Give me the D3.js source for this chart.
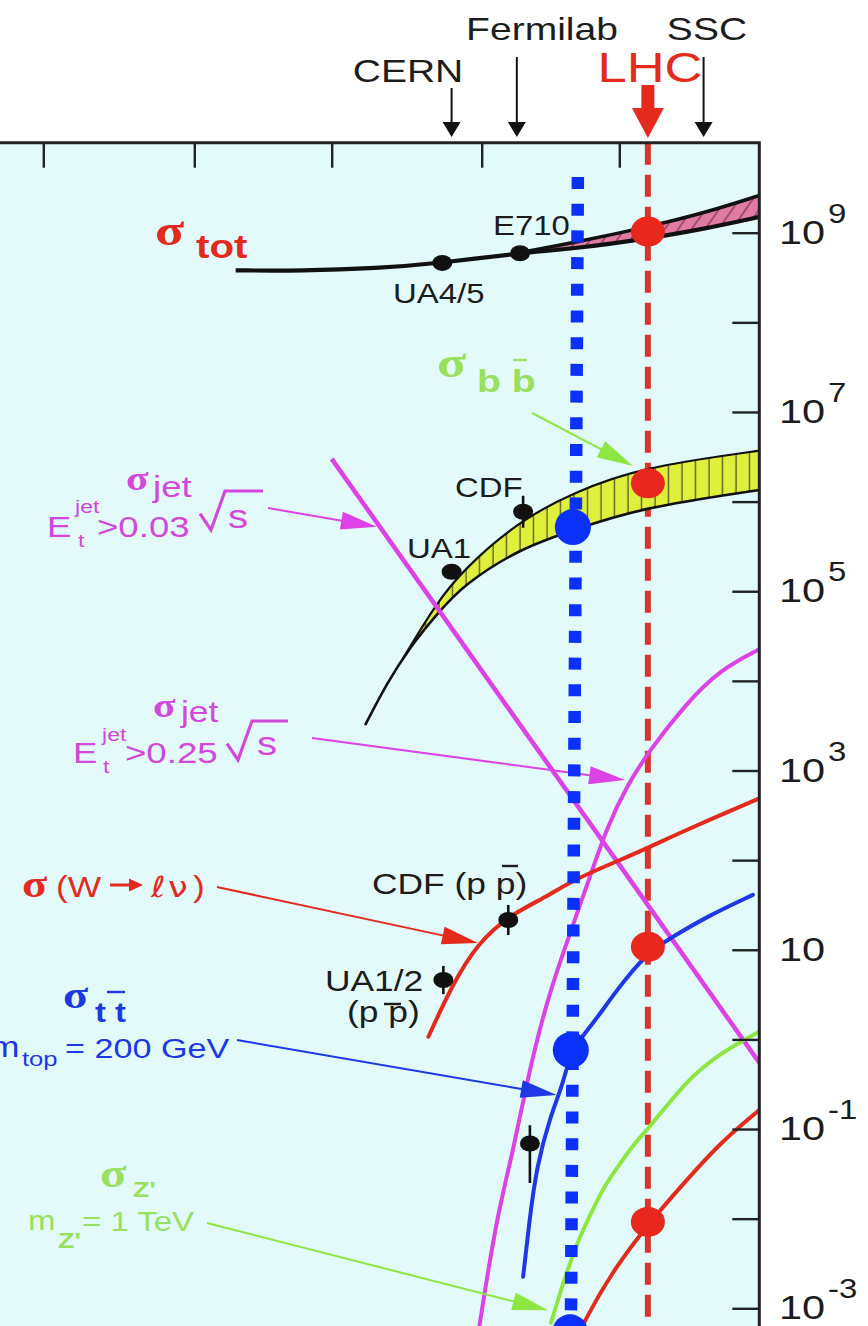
<!DOCTYPE html>
<html>
<head>
<meta charset="utf-8">
<script src="https://cdn.jsdelivr.net/npm/d3@7"></script>
<style>
  html, body { margin: 0; padding: 0; background: #ffffff; }
  svg { display: block; }
</style>
</head>
<body>
<svg id="chart" width="868" height="1326"></svg>
<script>
// ---------------------------------------------------------------
// Data: cross sections σ versus collider energy √s (GeV)
// ---------------------------------------------------------------

// top-axis decades of √s (GeV)
const energyDecades = [1, 10, 100, 1000, 10000, 100000];

// right-axis decades of σ, and the ones that carry a label
const sigmaDecades = [1e-3, 1e-2, 1e-1, 1, 10, 1e2, 1e3, 1e4, 1e5, 1e6, 1e7, 1e8, 1e9];
const sigmaLabelValues = [1e9, 1e7, 1e5, 1e3, 10, 1e-1, 1e-3];
const sigmaLabelExponents = ["9", "7", "5", "3", "", "-1", "-3"];

// colliders marked above the plot
const machineNames = ["CERN", "Fermilab", "LHC", "SSC"];
const machineEnergies = [630, 1800, 16000, 40000];

// σ_tot : single curve that opens into a band
const sigmaTotLower = [[20, 3.8e8], [60, 3.75e8], [200, 4.0e8], [546, 4.6e8], [1800, 5.9e8], [5000, 6.7e8], [16000, 8.6e8], [40000, 1.1e9], [100000, 1.5e9]];
const sigmaTotUpper = [[1800, 5.9e8], [5000, 7.9e8], [16000, 1.16e9], [40000, 1.65e9], [100000, 2.6e9]];

// σ_bb̄ band
const bbLower = [[167, 3.2e3], [234, 9.5e3], [333, 2.39e4], [504, 5.57e4], [750, 1.17e5], [1900, 3.0e5], [4600, 4.8e5], [14000, 8.5e5], [100000, 1.35e6]];
const bbUpper = [[300, 1.8e4], [500, 7.4e4], [750, 1.73e5], [1900, 6.2e5], [4600, 1.25e6], [14000, 2.4e6], [100000, 3.7e6]];

// σ_jet, E_t > 0.03 √s (straight in log-log)
const jetLowCut = [[100, 3.0e6], [1000, 1.3e4], [10000, 89], [100000, 0.55]];
// σ_jet, E_t > 0.25 √s
const jetHighCut = [[960, 6.0e-4], [1285, 0.0105], [1700, 0.058], [2120, 0.33], [2970, 2.75], [4390, 15.4], [6120, 65], [8090, 228], [11300, 671], [16500, 1700], [30300, 5660], [52000, 1.32e4], [100000, 2.25e4]];

// σ(W → ℓν)
const wLnu = [[441, 1.07], [647, 4.3], [944, 11.9], [1600, 24.4], [2970, 39], [4600, 60], [10100, 100], [16500, 140], [30000, 217], [100000, 490]];

// σ_tt̄, m_top = 200 GeV
const ttbar = [[2000, 2.25e-3], [2240, 0.0105], [2510, 0.038], [3140, 0.137], [3920, 0.324], [4440, 0.76], [6480, 1.51], [9570, 3.56], [15700, 9.2], [24200, 14], [42100, 23.4], [90000, 41]];

// σ_Z', m_Z' = 1 TeV
const zPrime = [[3190, 6.9e-4], [3900, 1.9e-3], [4390, 3.2e-3], [5180, 6.4e-3], [6440, 0.0128], [7870, 0.0237], [10100, 0.041], [12900, 0.07], [16500, 0.105], [30300, 0.35], [52300, 0.7], [100000, 1.22]];

// lowest red curve
const lowerRedCurve = [[4300, 3.0e-4], [5470, 6.9e-4], [9040, 2.68e-3], [16500, 9.2e-3], [30300, 0.027], [52300, 0.0698], [100000, 0.163]];

// σ values marked at the LHC energy
const lhcSigmas = [1.03e9, 1.6e6, 10.8, 0.0092];

// measured points: [√s, σ, error low, error high]
const measuredNames = ["UA4/5", "E710", "UA1", "CDF", "UA1/2", "CDF (p p̄)", "top"];
const measuredPoints = [
  [546, 4.6e8, null, null],
  [1900, 5.9e8, null, null],
  [630, 1.65e5, null, null],
  [2000, 7.7e5, 5.1e5, 1.16e6],
  [555, 4.6, 3.2, 6.6],
  [1560, 21.5, 14.6, 31.6],
  [2240, 0.069, 0.025, 0.11]
];

// points on the curves that the label arrows touch
const arrowTargets = [[12500, 2.5e6], [200, 5.25e5], [11000, 783], [944, 11.9], [3510, 0.239], [3050, 9.5e-4]];

// dotted blue marker line (√s at its top and bottom end) and its dots
const markerLineEnergies = [5000, 4450];
const markerDots = [[4600, 5.2e5], [4440, 0.76], [4390, 5.4e-4]];

// ---------------------------------------------------------------
// Drawing
// ---------------------------------------------------------------
const W = 868, H = 1326;
const SX = 1.22;                       // horizontal stretch of the lettering
const SANS = "'Liberation Sans', Arial, sans-serif";
const SERIF = "'Liberation Serif', 'DejaVu Serif', serif";
const DEJAVU = "'DejaVu Sans', sans-serif";

const INK = "#1c1c1c";
const RED = "#e42a1c";
const MAGENTA = "#dc42e6";
const MAG_TXT = "#d247dc";
const BLUE = "#1d38e4";
const GREEN = "#8ee642";
const GREEN_TXT = "#98e05e";
const OVERLAY = "#0a30fa";

const frame = { left: 0, top: 142.7, right: 759.3, bottom: H };

const x = d3.scaleLog().domain(energyDecades).range([43.3, 194.3, 331.7, 481.7, 619.3, 759.3]);
const y = d3.scaleLog().domain([1e-3, 1e9]).range([1308.3, 232.7]);

const svg = d3.select("#chart");
const defs = svg.append("defs");

defs.append("clipPath").attr("id", "plot-clip")
  .append("rect")
  .attr("x", frame.left).attr("y", frame.top)
  .attr("width", frame.right - frame.left).attr("height", frame.bottom - frame.top);

// vertical hatching for the bb̄ band
const vh = defs.append("pattern").attr("id", "hatch-bb")
  .attr("patternUnits", "userSpaceOnUse").attr("width", 13.5).attr("height", 20);
vh.append("rect").attr("width", 13.5).attr("height", 20).attr("fill", "#dff03c");
vh.append("line").attr("x1", 7).attr("x2", 7).attr("y1", 0).attr("y2", 20)
  .attr("stroke", "#3a3a1a").attr("stroke-width", 1.1);

// slanted hatching for the σ_tot band
const dh = defs.append("pattern").attr("id", "hatch-tot")
  .attr("patternUnits", "userSpaceOnUse").attr("width", 11).attr("height", 20)
  .attr("patternTransform", "rotate(35)");
dh.append("rect").attr("width", 11).attr("height", 20).attr("fill", "#e27ba4");
dh.append("line").attr("x1", 5).attr("x2", 5).attr("y1", 0).attr("y2", 20)
  .attr("stroke", "#6a2a40").attr("stroke-width", 1.1);

// page and plot background
svg.append("rect").attr("width", W).attr("height", H).attr("fill", "#ffffff");
svg.append("rect")
  .attr("x", frame.left).attr("y", frame.top)
  .attr("width", frame.right - frame.left).attr("height", frame.bottom - frame.top)
  .attr("fill", "#e2fafa");

const plot = svg.append("g").attr("clip-path", "url(#plot-clip)");

const smooth = d3.line().x(d => x(d[0])).y(d => y(d[1])).curve(d3.curveBasis);
const straight = d3.line().x(d => x(d[0])).y(d => y(d[1]));

// Fill between two curves: everything under the upper curve that is
// also above the lower curve (the latter applied as a clip path).
function band(id, upper, lower, fill) {
  const lo = lower[0], hi = lower[lower.length - 1];
  defs.append("clipPath").attr("id", id)
    .append("path")
    .attr("d", smooth(lower) + `L${x(hi[0]) + 5},${y(hi[1])}L${x(hi[0]) + 5},0L${x(lo[0])},0Z`);
  const uFirst = upper[0], uLast = upper[upper.length - 1];
  plot.append("path")
    .attr("clip-path", `url(#${id})`)
    .attr("d", smooth(upper) + `L${x(uLast[0])},${H}L${x(uFirst[0])},${H}Z`)
    .attr("fill", fill);
}

// LHC energy: dashed vertical line
const xLHC = x(machineEnergies[2]);
plot.append("line")
  .attr("x1", xLHC).attr("x2", xLHC).attr("y1", frame.top).attr("y2", frame.bottom)
  .attr("stroke", "#d6362c").attr("stroke-width", 6).attr("stroke-dasharray", "22 10");

// σ_tot band and curve
band("clip-tot", sigmaTotUpper, sigmaTotLower, "url(#hatch-tot)");
plot.append("path").attr("d", smooth(sigmaTotLower))
  .attr("fill", "none").attr("stroke", "#111").attr("stroke-width", 4.2);
plot.append("path").attr("d", smooth(sigmaTotUpper))
  .attr("fill", "none").attr("stroke", "#111").attr("stroke-width", 3.5);

// σ_bb̄ band
band("clip-bb", bbUpper, bbLower, "url(#hatch-bb)");
plot.append("path").attr("d", smooth(bbLower))
  .attr("fill", "none").attr("stroke", "#111").attr("stroke-width", 2.6);
plot.append("path").attr("clip-path", "url(#clip-bb)").attr("d", smooth(bbUpper))
  .attr("fill", "none").attr("stroke", "#111").attr("stroke-width", 2.2);

// jet cross sections
plot.append("path").attr("d", straight(jetLowCut))
  .attr("fill", "none").attr("stroke", MAGENTA).attr("stroke-width", 4.5);
plot.append("path").attr("d", smooth(jetHighCut))
  .attr("fill", "none").attr("stroke", MAGENTA).attr("stroke-width", 4);

// W, top, Z' and the lowest curve
[[wLnu, RED], [ttbar, BLUE], [zPrime, GREEN], [lowerRedCurve, RED]].forEach(([data, col]) => {
  plot.append("path").attr("d", smooth(data))
    .attr("fill", "none").attr("stroke", col).attr("stroke-width", 4).attr("stroke-linecap", "round");
});

// measured points with error bars
const pts = plot.append("g");
measuredPoints.forEach(d => {
  if (d[2] !== null) {
    pts.append("line")
      .attr("x1", x(d[0])).attr("x2", x(d[0]))
      .attr("y1", y(d[2])).attr("y2", y(d[3]))
      .attr("stroke", "#111").attr("stroke-width", 2.6);
  }
  pts.append("ellipse").attr("cx", x(d[0])).attr("cy", y(d[1]))
    .attr("rx", 10).attr("ry", 8).attr("fill", "#111");
});

// σ values at the LHC
lhcSigmas.forEach(v => {
  plot.append("ellipse").attr("cx", xLHC).attr("cy", y(v))
    .attr("rx", 17).attr("ry", 15).attr("fill", "#e8281c");
});

// ---------------------------------------------------------------
// Annotation helpers
// ---------------------------------------------------------------
const notes = svg.append("g");

function put(px, py, str, o) {
  const g = notes.append("g").attr("transform", `translate(${px},${py}) scale(${SX},1)`);
  g.append("text")
    .attr("text-anchor", o.anchor || "start")
    .attr("font-family", o.family || SANS)
    .attr("font-size", o.size)
    .attr("font-weight", o.weight || "normal")
    .attr("fill", o.fill || INK)
    .text(str);
}

function sigma(px, py, size, col) {
  put(px, py, "σ", { size: size, family: SERIF, weight: "bold", fill: col });
}

function arrow(g, x1, y1, x2, y2, col, o) {
  const opt = Object.assign({ width: 2, head: 36, half: 9 }, o || {});
  const dx = x2 - x1, dy = y2 - y1, len = Math.hypot(dx, dy);
  const ux = dx / len, uy = dy / len;
  const bx = x2 - ux * opt.head, by = y2 - uy * opt.head;
  g.append("line").attr("x1", x1).attr("y1", y1).attr("x2", bx + ux * 2).attr("y2", by + uy * 2)
    .attr("stroke", col).attr("stroke-width", opt.width);
  g.append("path")
    .attr("d", `M${x2},${y2}L${bx - uy * opt.half},${by + ux * opt.half}L${bx + uy * opt.half},${by - ux * opt.half}Z`)
    .attr("fill", col);
}

function radical(px, yTop, yBottom, xEnd, col) {
  const yMid = yTop + 0.58 * (yBottom - yTop);
  notes.append("path")
    .attr("d", `M${px},${yMid}L${px + 11},${yBottom}L${px + 25},${yTop}H${xEnd}`)
    .attr("fill", "none").attr("stroke", col).attr("stroke-width", 3.2)
    .attr("stroke-linejoin", "miter");
}

function bar(x1, x2, yy, col) {
  notes.append("line").attr("x1", x1).attr("x2", x2).attr("y1", yy).attr("y2", yy)
    .attr("stroke", col).attr("stroke-width", 2.4);
}

// ---------------------------------------------------------------
// Frame and axes
// ---------------------------------------------------------------
const axes = svg.append("g");

axes.append("g")
  .attr("transform", `translate(0,${frame.top})`)
  .call(d3.axisTop(x).tickValues(energyDecades.slice(0, 5)).tickSize(-25).tickSizeOuter(0).tickFormat(""))
  .call(g => g.select(".domain").remove())
  .call(g => g.selectAll(".tick line").attr("stroke", "#222").attr("stroke-width", 2.4));

axes.append("g")
  .attr("transform", `translate(${frame.right},0)`)
  .call(d3.axisRight(y).tickValues(sigmaDecades).tickSize(-27).tickSizeOuter(0).tickFormat(""))
  .call(g => g.select(".domain").remove())
  .call(g => g.selectAll(".tick line").attr("stroke", "#222").attr("stroke-width", 2.4));

axes.append("path")
  .attr("d", `M${frame.left},${frame.top}H${frame.right}V${frame.bottom}`)
  .attr("fill", "none").attr("stroke", "#222").attr("stroke-width", 3);

sigmaLabelValues.forEach((v, i) => {
  put(779, y(v) + 11, "10", { size: 34 });
  if (sigmaLabelExponents[i]) put(828, y(v) - 10, sigmaLabelExponents[i], { size: 27 });
});

// colliders above the plot
const machinesG = svg.append("g");
const xm = machineEnergies.map(e => x(e));
put(408, 82, machineNames[0], { size: 32, anchor: "middle" });
put(542, 40, machineNames[1], { size: 32, anchor: "middle" });
put(650, 82, machineNames[2], { size: 43, anchor: "middle", fill: RED });
put(707, 40, machineNames[3], { size: 32, anchor: "middle" });
arrow(machinesG, xm[0], 88, xm[0], 137, "#111", { width: 2, head: 15, half: 9 });
arrow(machinesG, xm[1], 57, xm[1], 137, "#111", { width: 2, head: 15, half: 9 });
arrow(machinesG, xm[3], 57, xm[3], 137, "#111", { width: 2, head: 15, half: 9 });
arrow(machinesG, xm[2], 85, xm[2], 138, RED, { width: 13, head: 30, half: 16 });

// ---------------------------------------------------------------
// Curve labels and their arrows
// ---------------------------------------------------------------
const arrowsG = svg.append("g");
const tails = [[532, 413], [268, 508], [312, 738], [217, 887], [237, 1040], [207, 1223]];
const arrowCols = [GREEN, MAGENTA, MAGENTA, RED, BLUE, GREEN];
arrowTargets.forEach((t, i) => {
  arrow(arrowsG, tails[i][0], tails[i][1], x(t[0]), y(t[1]), arrowCols[i], { width: 2 });
});

// σ_tot
sigma(155, 245, 44, RED);
put(196, 258, "tot", { size: 33, weight: "bold", fill: RED });

// σ_bb̄
sigma(437, 377, 44, GREEN_TXT);
put(477, 392, "b b", { size: 32, weight: "bold", fill: GREEN_TXT });
bar(513, 527, 360, GREEN_TXT);

// σ_jet, E_t^jet > 0.03 √s
sigma(126, 490, 34, MAG_TXT);
put(153, 497, "jet", { size: 30, fill: MAG_TXT });
put(47, 537, "E", { size: 30, fill: MAG_TXT });
put(75, 513, "jet", { size: 19, fill: MAG_TXT });
put(78, 547, "t", { size: 19, fill: MAG_TXT });
put(97, 537, ">0.03", { size: 30, fill: MAG_TXT });
radical(200, 491, 530, 263, MAG_TXT);
put(228, 528, "s", { size: 33, fill: MAG_TXT });

// σ_jet, E_t^jet > 0.25 √s
sigma(153, 717, 34, MAG_TXT);
put(181, 722, "jet", { size: 29, fill: MAG_TXT });
put(73, 763, "E", { size: 30, fill: MAG_TXT });
put(102, 741, "jet", { size: 19, fill: MAG_TXT });
put(103, 773, "t", { size: 19, fill: MAG_TXT });
put(125, 763, ">0.25", { size: 30, fill: MAG_TXT });
radical(227, 721, 760, 288, MAG_TXT);
put(257, 755, "s", { size: 33, fill: MAG_TXT });

// σ(W → ℓν)
sigma(22, 897, 38, RED);
put(56, 897, "(W", { size: 29, fill: RED });
notes.append("line").attr("x1", 110).attr("x2", 131).attr("y1", 885).attr("y2", 885)
  .attr("stroke", RED).attr("stroke-width", 3);
notes.append("path").attr("d", "M129,878.5L143,885L129,891.5Z").attr("fill", RED);
put(151, 897, "ℓ", { size: 29, family: DEJAVU, fill: RED });
put(168, 897, "ν", { size: 29, family: DEJAVU, fill: RED });
put(193, 897, ")", { size: 29, fill: RED });

// data point labels
put(493, 235, measuredNames[1], { size: 27 });
put(393, 303, measuredNames[0], { size: 27 });
put(455, 497, measuredNames[3], { size: 27 });
put(407, 558, measuredNames[2], { size: 27 });
put(372, 894, "CDF (p p)", { size: 29 });
bar(502, 518, 866, INK);
put(325, 991, measuredNames[4], { size: 29 });
put(347, 1022, "(p p)", { size: 29 });
bar(384, 401, 1004, INK);

// σ_tt̄, m_top = 200 GeV
sigma(63, 1008, 38, BLUE);
put(95, 1022, "t t", { size: 27, weight: "bold", fill: BLUE });
bar(107, 125, 992, BLUE);
put(-10, 1057, "m", { size: 29, fill: BLUE });
put(22, 1066, "top", { size: 21, fill: BLUE });
put(65, 1058, "= 200 GeV", { size: 28, fill: BLUE });

// σ_Z', m_Z' = 1 TeV
sigma(100, 1187, 40, GREEN_TXT);
put(133, 1197, "Z'", { size: 22, weight: "bold", fill: GREEN_TXT });
put(28, 1230, "m", { size: 27, fill: GREEN_TXT });
put(58, 1248, "Z'", { size: 22, weight: "bold", fill: GREEN_TXT });
put(82, 1231, "= 1 TeV", { size: 27, fill: GREEN_TXT });

// ---------------------------------------------------------------
// Dotted blue marker line with its dots
// ---------------------------------------------------------------
const marker = svg.append("g");
marker.append("line")
  .attr("x1", x(markerLineEnergies[0])).attr("y1", 177)
  .attr("x2", x(markerLineEnergies[1])).attr("y2", frame.bottom)
  .attr("stroke", OVERLAY).attr("stroke-width", 12.5).attr("stroke-dasharray", "12 14.7");
markerDots.forEach(d => {
  marker.append("circle").attr("cx", x(d[0])).attr("cy", y(d[1])).attr("r", 18).attr("fill", OVERLAY);
});
</script>
</body>
</html>
